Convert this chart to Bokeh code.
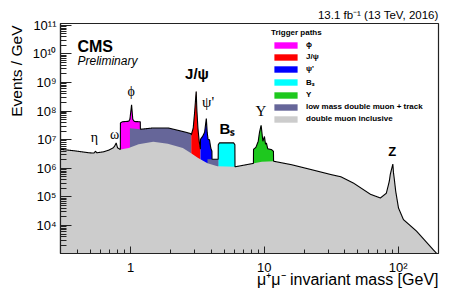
import numpy as np
from bokeh.plotting import figure
from bokeh.models import Range1d, FixedTicker, Label, Legend, LegendItem, Title
from bokeh.embed import file_html
from bokeh.resources import INLINE

# ---------------- data (mass in GeV, events / GeV) ----------------
incl_mass = [0.30, 0.38, 0.49, 0.533, 0.548, 0.56, 0.63, 0.69, 0.74, 0.76, 0.782, 0.80, 0.84,
             0.97, 1.15, 1.48, 1.9, 2.46, 2.82, 3.18, 3.76, 4.46, 6.06, 7.82, 9.58, 11.75,
             16.0, 22.4, 31.5, 37.3, 46.6, 62.1, 73.6, 81.5, 85.8, 87.3, 91.2, 92.2, 93.4,
             95.8, 100.5, 109.4, 137.4, 182.2, 200.0]
incl_val = [4.61e6, 4.09e6, 3.48e6, 3.40e6, 3.93e6, 3.48e6, 3.77e6, 4.33e6, 5.13e6, 5.88e6,
            7.67e6, 5.21e6, 4.51e6, 5.13e6, 6.9e6, 8.38e6, 7.2e6, 5.13e6, 3.43e6, 2.33e6,
            1.5e6, 1.17e6, 1.13e6, 1.41e6, 1.69e6, 1.76e6, 1.33e6, 9.0e5, 6.02e5, 5.05e5,
            2.99e5, 1.23e5, 9.17e4, 1.34e5, 3.51e5, 6.2e5, 1.41e6, 7.0e5, 4.4e5, 1.57e5,
            4.09e4, 1.61e4, 6.27e3, 1.44e3, 9.0e2]

phi_mass = [0.84, 0.87, 0.97, 0.99, 1.019, 1.04, 1.07, 1.185]
phi_val = [3.84e7, 4.23e7, 4.4e7, 5.16e7, 1.66e8, 5.16e7, 4.3e7, 4.23e7]

jpsi_mass = [2.84, 2.94, 3.01, 3.097, 3.13, 3.19, 3.26, 3.33]
jpsi_val = [1.43e7, 2.5e7, 8.4e7, 5.1e8, 1.16e8, 2.5e7, 8.8e6, 4.6e6]

psi2_mass = [3.33, 3.46, 3.58, 3.686, 3.74, 3.80, 3.89, 3.98, 4.06]
psi2_val = [1.03e7, 1.31e7, 1.82e7, 5.6e7, 1.82e7, 1.03e7, 9.9e6, 5.1e6, 3.9e6]

bs_mass = [4.52, 4.62, 5.9, 6.03]
bs_val = [6.6e6, 7.7e6, 7.7e6, 6.6e6]

ups_mass = [8.3, 8.65, 9.0, 9.2, 9.46, 9.75, 10.02, 10.2, 10.36, 10.6, 11.3, 11.7]
ups_val = [4.6e6, 5.4e6, 8.8e6, 1.8e7, 3.2e7, 8.8e6, 1.3e7, 6.9e6, 7.7e6, 4.8e6, 4.5e6, 3.9e6]

lowmass_mass_a = [0.99, 1.185, 1.48, 1.91, 2.26, 2.59, 2.84]
lowmass_val_a = [2.5e7, 2.31e7, 2.57e7, 2.57e7, 2.13e7, 1.82e7, 1.61e7]
lowmass_mass_b = [3.76, 4.54]
lowmass_val_b = [2.06e6, 2.06e6]

legend_labels = ["ϕ", "J/ψ", "ψ'", "Bₛ", "Υ", "low mass double muon + track", "double muon inclusive"]
y_tick_vals = [1e4, 1e5, 1e6, 1e7, 1e8, 1e9, 1e10, 1e11]
y_tick_text = ["10⁴", "10⁵", "10⁶", "10⁷", "10⁸", "10⁹", "10¹⁰", "10¹¹"]
x_tick_vals = [1, 10, 100]
x_tick_text = ["1", "10", "10²"]

colors = {"phi": "#ff00ff", "jpsi": "#ff0000", "psi2": "#0000ff", "bs": "#00ffff",
          "ups": "#1ec81e", "low": "#666699", "incl": "#cccccc"}

SANS = "Liberation Sans"
SERIF = "Liberation Serif"

p = figure(width=457, height=292, x_axis_type="log", y_axis_type="log",
           x_range=Range1d(0.3, 200), y_range=Range1d(1.05e3, 1.15e11),
           output_backend="svg", toolbar_location=None, title=None,
           min_border_left=56, min_border_right=19, min_border_top=23, min_border_bottom=39)
p.grid.visible = False
p.outline_line_color = "#222222"
p.outline_line_width = 1.2
p.background_fill_color = "white"
p.border_fill_color = "white"

BOTTOM = 1.0
r_phi = p.varea(x=phi_mass, y1=BOTTOM, y2=phi_val, fill_color=colors["phi"])
r_jpsi = p.varea(x=jpsi_mass, y1=BOTTOM, y2=jpsi_val, fill_color=colors["jpsi"])
r_psi2 = p.varea(x=psi2_mass, y1=BOTTOM, y2=psi2_val, fill_color=colors["psi2"])
r_bs = p.varea(x=bs_mass, y1=BOTTOM, y2=bs_val, fill_color=colors["bs"])
r_ups = p.varea(x=ups_mass, y1=BOTTOM, y2=ups_val, fill_color=colors["ups"])
r_low = p.varea(x=lowmass_mass_a, y1=BOTTOM, y2=lowmass_val_a, fill_color=colors["low"])
p.varea(x=lowmass_mass_b, y1=BOTTOM, y2=lowmass_val_b, fill_color=colors["low"])
r_incl = p.varea(x=incl_mass, y1=BOTTOM, y2=incl_val, fill_color=colors["incl"])

# black outline along the upper envelope of all trigger paths
series = [(incl_mass, incl_val), (phi_mass, phi_val), (jpsi_mass, jpsi_val), (psi2_mass, psi2_val),
          (bs_mass, bs_val), (ups_mass, ups_val), (lowmass_mass_a, lowmass_val_a),
          (lowmass_mass_b, lowmass_val_b)]
grid = np.logspace(np.log10(incl_mass[0]), np.log10(incl_mass[-1]), 4000)
lg = np.log10(grid)
env = np.full_like(grid, -np.inf)
for m, v in series:
    lm = np.log10(m)
    lv = np.log10(v)
    inside = (lg >= lm[0]) & (lg <= lm[-1])
    env = np.where(inside, np.maximum(env, np.interp(lg, lm, lv)), env)
p.line(grid, 10 ** env, line_color="black", line_width=1.1)

# axes
minor_y = [k * 10.0 ** d for d in range(3, 11) for k in range(2, 10)]
minor_x = [k * 10.0 ** d for d in range(-1, 3) for k in range(1, 10)]
for ax, vals, texts, minors, tin, mtin, standoff in (
        (p.yaxis[0], y_tick_vals, y_tick_text, minor_y, 11, 6, 4),
        (p.xaxis[0], x_tick_vals, x_tick_text, minor_x, 7, 4, 6)):
    ax.ticker = FixedTicker(ticks=vals, minor_ticks=minors)
    ax.major_label_overrides = {v: t for v, t in zip(vals, texts)}
    ax.major_tick_in = tin
    ax.major_tick_out = 0
    ax.minor_tick_in = mtin
    ax.minor_tick_out = 0
    ax.axis_line_color = "#222222"
    ax.major_tick_line_color = "#222222"
    ax.minor_tick_line_color = "#222222"
    ax.axis_line_width = 1.2
    ax.major_label_text_font = SANS
    ax.major_label_text_font_size = "13px"
    ax.major_label_text_color = "black"
    ax.major_label_standoff = standoff

# axis titles, end aligned (ROOT style)
p.add_layout(Title(text="μ⁺μ⁻ invariant mass [GeV]", align="right", vertical_align="top",
                   text_font=SANS, text_font_size="16px", text_font_style="normal",
                   text_color="black", standoff=-13), "below")
p.add_layout(Title(text="Events / GeV", align="right", vertical_align="bottom", offset=2,
                   text_font=SANS, text_font_size="15.5px", text_font_style="normal",
                   text_color="black", standoff=10), "left")
p.add_layout(Title(text="13.1 fb⁻¹ (13 TeV, 2016)", align="right", text_font=SANS,
                   text_font_size="11.5px", text_font_style="normal", text_color="black",
                   standoff=5), "above")

# texts inside the frame
def lab(x, y, text, size, font=SANS, style="normal", align="center", baseline="middle"):
    p.add_layout(Label(x=x, y=y, text=text, text_font=font, text_font_size=size,
                       text_font_style=style, text_align=align, text_baseline=baseline,
                       text_color="black"))

lab(0.4016, 1.8e10, "CMS", "16px", style="bold", align="left", baseline="alphabetic")
lab(0.4016, 5.5e9, "Preliminary", "12px", style="italic", align="left", baseline="alphabetic")

lab(0.538, 1.21e7, "η", "14px", font=SERIF)
lab(0.762, 1.48e7, "ω", "14px", font=SERIF)
lab(1.01, 4.92e8, "ϕ", "14px", font=SERIF)
lab(3.14, 2.01e9, "J/ψ", "15px", style="bold")
lab(3.80, 2.03e8, "ψ'", "15px", font=SERIF)
lab(5.29, 2.5e7, "Bₛ", "15px", style="bold")
lab(9.42, 9.84e7, "Υ", "15px", font=SERIF)
lab(90.3, 3.78e6, "Z", "13px", style="bold")

legend = Legend(items=[LegendItem(label=legend_labels[i], renderers=[r])
                       for i, r in enumerate([r_phi, r_jpsi, r_psi2, r_bs, r_ups, r_low, r_incl])],
                location=(211, 130), title="Trigger paths")
legend.title_text_font = SANS
legend.title_text_font_style = "bold"
legend.title_text_font_size = "8px"
legend.title_text_color = "black"
legend.title_standoff = 3
legend.label_text_font = SANS
legend.label_text_font_style = "bold"
legend.label_text_font_size = "8px"
legend.label_text_color = "black"
legend.glyph_width = 29
legend.glyph_height = 8
legend.label_height = 8
legend.spacing = 3
legend.padding = 0
legend.margin = 0
legend.label_standoff = 6
legend.border_line_color = None
legend.background_fill_alpha = 0
p.add_layout(legend)

open("out.html", "w").write(file_html(p, INLINE))
